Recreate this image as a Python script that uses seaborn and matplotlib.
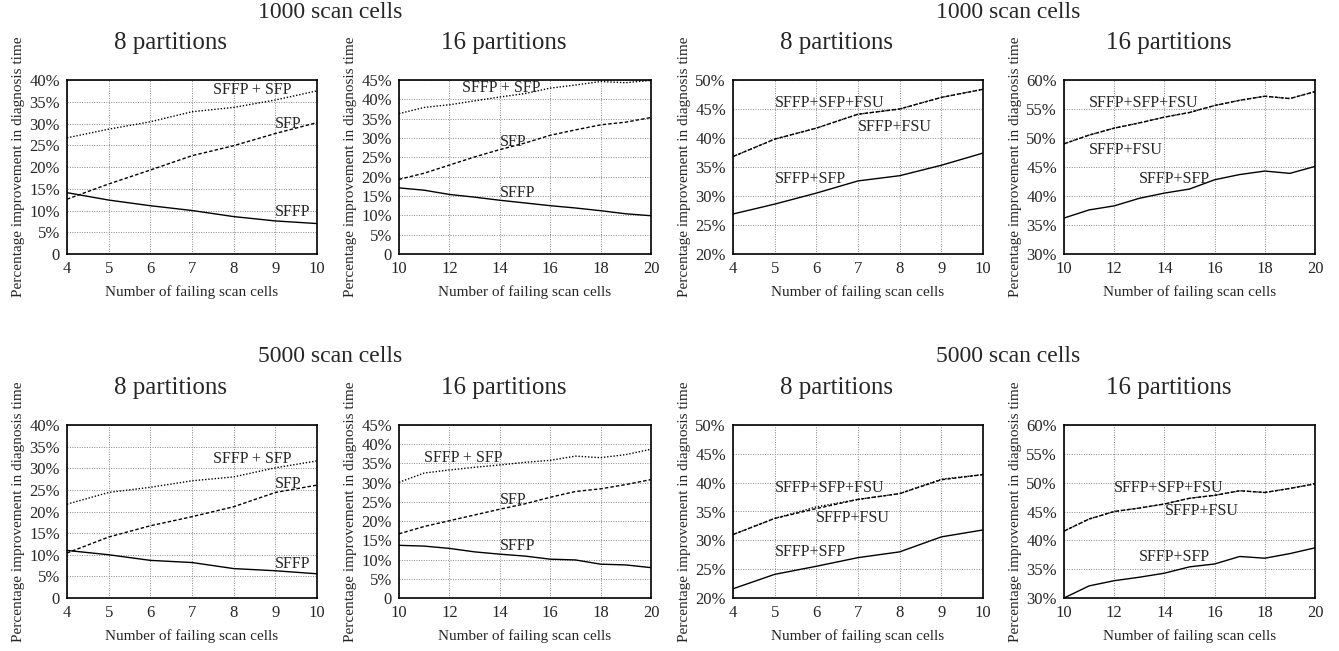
import matplotlib
matplotlib.use("Agg")
import matplotlib.pyplot as plt
from matplotlib.ticker import FuncFormatter, MultipleLocator
import seaborn as sns

# x values
cells_8 = [4, 5, 6, 7, 8, 9, 10]
cells_16 = [10, 11, 12, 13, 14, 15, 16, 17, 18, 19, 20]

# 1000 scan cells, 8 partitions
k1_p8_sffp = [14.1, 12.4, 11.1, 10.0, 8.6, 7.6, 7.0]
k1_p8_sfp = [12.6, 16.1, 19.3, 22.6, 24.9, 27.7, 30.2]
k1_p8_sffp_sfp = [26.7, 28.7, 30.4, 32.7, 33.7, 35.4, 37.5]
# 1000 scan cells, 16 partitions
k1_p16_sffp = [17.1, 16.5, 15.4, 14.7, 13.9, 13.2, 12.5, 11.9, 11.2, 10.4, 9.9]
k1_p16_sfp = [19.3, 20.9, 23.0, 25.1, 27.0, 28.7, 30.7, 32.1, 33.4, 34.1, 35.3]
k1_p16_sffp_sfp = [36.3, 37.9, 38.6, 39.6, 40.6, 41.5, 42.9, 43.7, 44.6, 44.3, 44.9]
# 1000 scan cells, FSU comparison
k1_p8_all = [36.8, 39.8, 41.7, 44.1, 45.0, 47.0, 48.4]
k1_p8_fsu = [36.8, 39.8, 41.7, 44.1, 45.0, 47.0, 48.4]
k1_p8_pair = [26.9, 28.6, 30.5, 32.6, 33.5, 35.3, 37.4]
k1_p16_all = [49.0, 50.5, 51.7, 52.6, 53.6, 54.4, 55.6, 56.5, 57.2, 56.8, 58.0]
k1_p16_fsu = [49.0, 50.5, 51.7, 52.6, 53.6, 54.4, 55.6, 56.5, 57.2, 56.8, 58.0]
k1_p16_pair = [36.2, 37.6, 38.3, 39.6, 40.5, 41.2, 42.8, 43.7, 44.3, 43.9, 45.1]

# 5000 scan cells, 8 partitions
k5_p8_sffp = [11.0, 10.0, 8.7, 8.2, 6.8, 6.3, 5.6]
k5_p8_sfp = [10.4, 14.1, 16.7, 18.8, 21.1, 24.4, 26.1]
k5_p8_sffp_sfp = [21.7, 24.4, 25.6, 27.1, 28.0, 30.1, 31.7]
# 5000 scan cells, 16 partitions
k5_p16_sffp = [13.7, 13.5, 12.9, 12.0, 11.4, 10.9, 10.1, 9.9, 8.8, 8.6, 7.9]
k5_p16_sfp = [16.7, 18.6, 20.1, 21.6, 23.1, 24.5, 26.2, 27.7, 28.4, 29.5, 30.8]
k5_p16_sffp_sfp = [30.1, 32.5, 33.3, 34.0, 34.6, 35.3, 35.8, 36.9, 36.5, 37.3, 38.7]
# 5000 scan cells, FSU comparison
k5_p8_all = [31.0, 33.8, 35.8, 37.1, 38.1, 40.6, 41.4]
k5_p8_fsu = [31.0, 33.8, 35.5, 37.1, 38.1, 40.5, 41.4]
k5_p8_pair = [21.6, 24.1, 25.5, 27.0, 28.0, 30.6, 31.8]
k5_p16_all = [41.6, 43.7, 45.0, 45.6, 46.3, 47.3, 47.8, 48.6, 48.3, 49.0, 49.8]
k5_p16_fsu = [41.6, 43.7, 45.0, 45.6, 46.3, 47.3, 47.8, 48.6, 48.3, 49.0, 49.8]
k5_p16_pair = [30.0, 32.1, 33.0, 33.6, 34.3, 35.4, 35.9, 37.2, 36.9, 37.7, 38.7]

sns.set_style("white")
plt.rcParams["font.family"] = ["Liberation Serif", "DejaVu Serif"]

W, H = 1339, 651
fig = plt.figure(figsize=(W / 100, H / 100), dpi=100)

SOLID = "-"
DASHED = (0, (2.5, 1.5))
DOTTED = (0, (1, 1.3))


def pct(v, _pos):
    return "0" if abs(v) < 1e-9 else f"{v:.0f}%"


def panel(px, series, ylim, labels, title):
    """px = (left, top, right, bottom) in pixels"""
    l, t, r, b = px
    ax = fig.add_axes([l / W, (H - b) / H, (r - l) / W, (b - t) / H])
    for x, y, ls in series:
        sns.lineplot(x=x, y=y, ax=ax, color="black", lw=1.0, linestyle=ls)
    ax.set_xlim(series[0][0][0], series[0][0][-1])
    ax.set_ylim(*ylim)
    ax.xaxis.set_major_locator(MultipleLocator(1 if series[0][0][0] == 4 else 2))
    ax.yaxis.set_major_locator(MultipleLocator(5))
    ax.yaxis.set_major_formatter(FuncFormatter(pct))
    ax.grid(True, color="#888888", linestyle=(0, (1, 1.5)), lw=0.7)
    ax.tick_params(length=0, labelsize=12, pad=5)
    for s in ax.spines.values():
        s.set_color("black")
        s.set_linewidth(1.2)
    ax.set_xlabel("Number of failing scan cells", fontsize=11, labelpad=6)
    ax.set_ylabel("Percentage improvement in diagnosis time", fontsize=11, labelpad=3)
    for txt, tx, ty in labels:
        ax.text(tx, ty, txt, fontsize=11.5, ha="left", va="center")
    cx = (l + r) / 2 - 21
    fig.text(cx / W, 1 - (t - 37) / H, title, fontsize=18, ha="center", va="center")
    return ax


row1 = (80, 254)
row2 = (425, 598)
cols = [(67, 317), (399, 651), (733, 983), (1064, 1315)]


def rect(c, r):
    return (cols[c][0], r[0], cols[c][1], r[1])


# top row: 1000 scan cells
panel(rect(0, row1),
      [(cells_8, k1_p8_sffp, SOLID), (cells_8, k1_p8_sfp, DASHED), (cells_8, k1_p8_sffp_sfp, DOTTED)],
      (0, 40),
      [("SFFP + SFP", 7.5, 37.7), ("SFP", 9.0, 29.9), ("SFFP", 9.0, 9.7)],
      "8 partitions")
panel(rect(1, row1),
      [(cells_16, k1_p16_sffp, SOLID), (cells_16, k1_p16_sfp, DASHED), (cells_16, k1_p16_sffp_sfp, DOTTED)],
      (0, 45),
      [("SFFP + SFP", 12.5, 42.9), ("SFP", 14.0, 28.9), ("SFFP", 14.0, 15.9)],
      "16 partitions")
panel(rect(2, row1),
      [(cells_8, k1_p8_pair, SOLID), (cells_8, k1_p8_fsu, DASHED), (cells_8, k1_p8_all, DOTTED)],
      (20, 50),
      [("SFFP+SFP+FSU", 5.0, 46.0), ("SFFP+FSU", 7.0, 41.9), ("SFFP+SFP", 5.0, 32.9)],
      "8 partitions")
panel(rect(3, row1),
      [(cells_16, k1_p16_pair, SOLID), (cells_16, k1_p16_fsu, DASHED), (cells_16, k1_p16_all, DOTTED)],
      (30, 60),
      [("SFFP+SFP+FSU", 11.0, 56.0), ("SFFP+FSU", 11.0, 47.9), ("SFFP+SFP", 13.0, 42.9)],
      "16 partitions")

# bottom row: 5000 scan cells
panel(rect(0, row2),
      [(cells_8, k5_p8_sffp, SOLID), (cells_8, k5_p8_sfp, DASHED), (cells_8, k5_p8_sffp_sfp, DOTTED)],
      (0, 40),
      [("SFFP + SFP", 7.5, 32.1), ("SFP", 9.0, 26.4), ("SFFP", 9.0, 7.9)],
      "8 partitions")
panel(rect(1, row2),
      [(cells_16, k5_p16_sffp, SOLID), (cells_16, k5_p16_sfp, DASHED), (cells_16, k5_p16_sffp_sfp, DOTTED)],
      (0, 45),
      [("SFFP + SFP", 11.0, 36.4), ("SFP", 14.0, 25.4), ("SFFP", 14.0, 13.6)],
      "16 partitions")
panel(rect(2, row2),
      [(cells_8, k5_p8_pair, SOLID), (cells_8, k5_p8_fsu, DASHED), (cells_8, k5_p8_all, DOTTED)],
      (20, 50),
      [("SFFP+SFP+FSU", 5.0, 39.1), ("SFFP+FSU", 6.0, 33.9), ("SFFP+SFP", 5.0, 28.0)],
      "8 partitions")
panel(rect(3, row2),
      [(cells_16, k5_p16_pair, SOLID), (cells_16, k5_p16_fsu, DASHED), (cells_16, k5_p16_all, DOTTED)],
      (30, 60),
      [("SFFP+SFP+FSU", 12.0, 49.1), ("SFFP+FSU", 14.0, 45.1), ("SFFP+SFP", 13.0, 37.1)],
      "16 partitions")

# group titles
for cx, cy, txt in [(330, 12, "1000 scan cells"), (1008, 12, "1000 scan cells"),
                    (330, 356, "5000 scan cells"), (1008, 356, "5000 scan cells")]:
    fig.text(cx / W, 1 - cy / H, txt, fontsize=17, ha="center", va="center")

fig.savefig("out.png", dpi=100)
